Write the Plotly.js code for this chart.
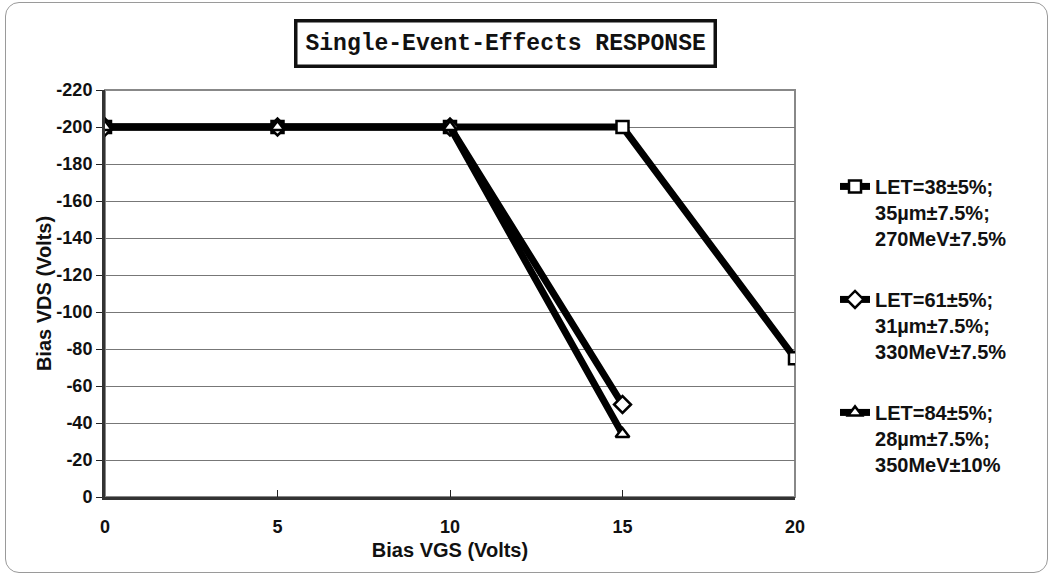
<!DOCTYPE html>
<html>
<head>
<meta charset="utf-8">
<script src="https://cdn.plot.ly/plotly-3.0.1.min.js"></script>
<style>
html,body{margin:0;padding:0;background:#fff;}
#wrap{position:relative;width:1054px;height:578px;}
#chart{position:absolute;left:0;top:0;width:1054px;height:578px;}
#frame{position:absolute;left:5px;top:2px;width:1043px;height:571px;border:1.5px solid #9a9a9a;border-radius:14px;pointer-events:none;box-sizing:border-box;}
</style>
</head>
<body>
<div id="wrap"><div id="chart"></div><div id="frame"></div></div>
<script>
const biasVGS = [0, 5, 10, 15, 20];
const vgsShort = [0, 5, 10, 15];
const let38 = [-200, -200, -200, -200, -75];
const let61 = [-200, -200, -200, -50];
const let84 = [-200, -200, -200, -34];
const seriesNames = [
  'LET=38±5%;<br>35µm±7.5%;<br>270MeV±7.5%',
  'LET=61±5%;<br>31µm±7.5%;<br>330MeV±7.5%',
  'LET=84±5%;<br>28µm±7.5%;<br>350MeV±10%'
];
const yTicks = [0, -20, -40, -60, -80, -100, -120, -140, -160, -180, -200, -220];
const yTickLabels = ['0', '-20', '-40', '-60', '-80', '-100', '-120', '-140', '-160', '-180', '-200', '-220'];

const fontFam = 'Liberation Sans, Arial, sans-serif';
function mk(x, y, name, sym, grp) {
  return {
    x: x, y: y, name: name, type: 'scatter', mode: 'lines+markers',
    legendgroup: grp,
    line: {color: '#000', width: 7},
    marker: {symbol: sym, size: sym === 'diamond' ? 13 : 12, color: '#fff', line: {color: '#000', width: 2.5}}
  };
}
const traces = [
  mk(biasVGS, let38, seriesNames[0], 'square', 'a'),
  mk(vgsShort, let61, seriesNames[1], 'diamond', 'b'),
  mk(vgsShort, let84, seriesNames[2], 'triangle-up', 'c')
];

const layout = {
  width: 1054, height: 578,
  margin: {l: 105, r: 259, t: 90, b: 81},
  paper_bgcolor: '#fff', plot_bgcolor: '#fff',
  showlegend: true,
  legend: {
    x: 1.058, y: 0.811, xanchor: 'left', yanchor: 'top',
    font: {family: fontFam, size: 20, color: '#111', weight: 'bold'},
    valign: 'top', tracegroupgap: 32, bgcolor: 'rgba(0,0,0,0)'
  },
  xaxis: {
    range: [0, 20], tickvals: biasVGS, ticks: 'inside', ticklen: 7, tickcolor: '#222', tickwidth: 1,
    showline: true, linecolor: '#333', linewidth: 3, showgrid: false, zeroline: false,
    ticklabelstandoff: 11,
    tickfont: {family: fontFam, size: 18, color: '#111', weight: 'bold'},
    title: {text: 'Bias VGS (Volts)', standoff: 8, font: {family: fontFam, size: 20, color: '#111', weight: 'bold'}}
  },
  yaxis: {
    range: [0, -220], tickvals: yTicks, ticktext: yTickLabels, ticks: 'outside', ticklen: 6, tickcolor: '#222', tickwidth: 1,
    showline: true, linecolor: '#333', linewidth: 3, showgrid: true, gridcolor: '#777', gridwidth: 1,
    zeroline: false,
    tickfont: {family: fontFam, size: 18, color: '#111', weight: 'bold'},
    title: {text: 'Bias VDS (Volts)', standoff: 0, font: {family: fontFam, size: 20, color: '#111', weight: 'bold'}}
  },
  shapes: [{
    type: 'rect', xref: 'paper', yref: 'paper', x0: 0, x1: 1, y0: 0, y1: 1,
    line: {color: '#888', width: 2}, layer: 'below'
  }],
  annotations: [{
    text: 'Single-Event-Effects RESPONSE', xref: 'paper', yref: 'paper',
    x: 0.58, y: 1.115, xanchor: 'center', yanchor: 'middle', showarrow: false,
    font: {family: 'Liberation Mono, Courier New, monospace', size: 23, color: '#111', weight: 'bold'},
    bordercolor: '#111', borderwidth: 3.5, borderpad: 8, bgcolor: '#fff'
  }]
};
Plotly.newPlot('chart', traces, layout, {displayModeBar: false, staticPlot: true});
</script>
</body>
</html>
